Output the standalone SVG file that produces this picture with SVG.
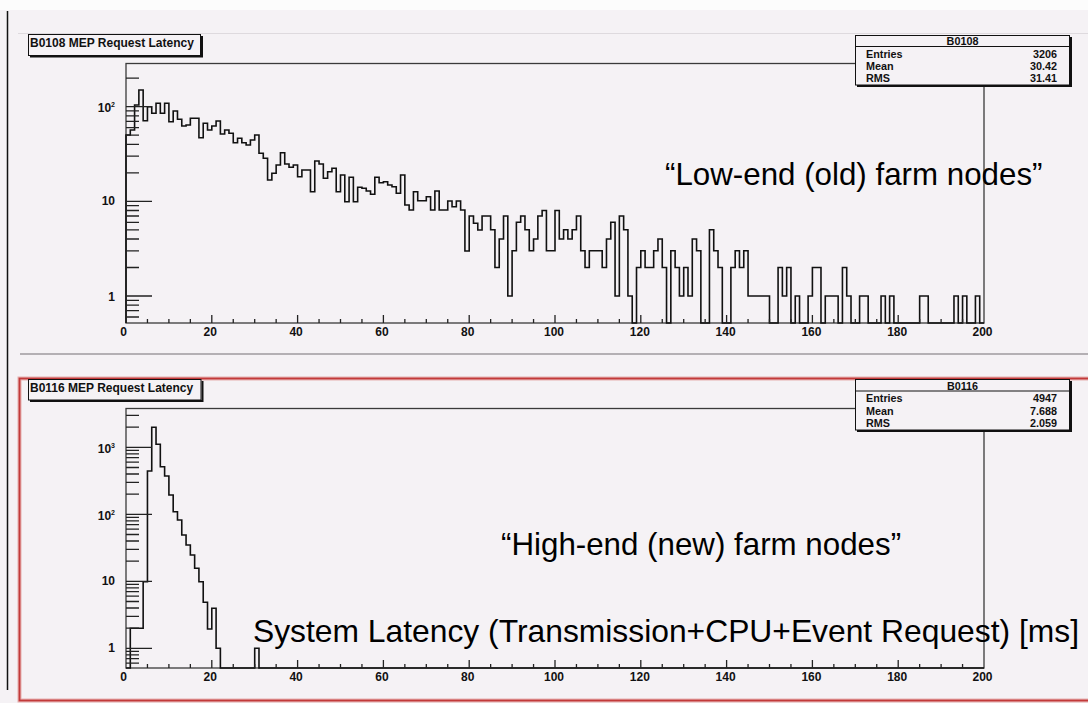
<svg xmlns="http://www.w3.org/2000/svg" width="1088" height="703" viewBox="0 0 1088 703">
<style>
.bg{fill:#f5f2f5}
.frame{fill:none;stroke:#3a3a3a;stroke-width:1.3}
.hist{fill:none;stroke:#111;stroke-width:1.6;vector-effect:non-scaling-stroke;stroke-linejoin:miter}
.tick{fill:none;stroke:#222;stroke-width:1.3}
.xt{fill:none;stroke:#222;stroke-width:1.3;vector-effect:non-scaling-stroke}
.lab{font-family:"Liberation Sans",Arial,sans-serif;font-weight:bold;font-size:12px;fill:#111}
.xl{text-anchor:middle}
.yl{text-anchor:end}
.sup{font-size:7px}
.title{font-family:"Liberation Sans",Arial,sans-serif;font-weight:bold;font-size:12px;fill:#111}
.box{fill:#f5f2f5;stroke:#111;stroke-width:1}
.shadow{fill:none;stroke:#111;stroke-width:2}
.stat{font-family:"Liberation Sans",Arial,sans-serif;font-weight:bold;font-size:10.8px;fill:#111}
.val{text-anchor:end}
.big{font-family:"Liberation Sans",Arial,sans-serif;font-size:31.3px;fill:#000}
</style>

<!-- page -->
<rect class="bg" x="0" y="0" width="1088" height="703"/>
<rect x="0" y="0" width="1088" height="10" fill="#fcfcfc"/>
<line x1="7.5" y1="11" x2="7.5" y2="690" stroke="#111" stroke-width="1.5"/>
<line x1="18" y1="33.5" x2="1088" y2="33.5" stroke="#dedade" stroke-width="1"/>
<line x1="20" y1="354" x2="1088" y2="354" stroke="#b4b0b4" stroke-width="2"/>

<!-- upper pad: B0108 -->
<g id="pad-b0108">
  <rect class="frame" x="126" y="63.5" width="858" height="259.5"/>
  <g id="hist-b0108" transform="translate(126 0) scale(4.29 1)">
    <path class="hist" d="M0,323 V135 H1 V130 H2 V105 H3 V90 H4 V120.7 H5 V106.7 H6 V113.3 H7 V103.3 H8 V113.3 H9 V103.3 H10 V121.7 H11 V111 H12 V119.3 H13 V126 H14 V125 H15 V118.3 H17 V137.7 H18 V123.3 H19 V130 H20 V126 H21 V121 H22 V134 H23 V130 H24 V133.3 H25 V142.7 H26 V138.3 H27 V142.7 H28 V145 H29 V140 H30 V135 H31 V153.3 H32 V158.3 H33 V180 H34 V173.3 H35 V165 H36 V152.7 H37 V164 H38 V167.3 H39 V165 H40 V176.7 H41 V170 H43 V191.7 H44 V161 H45 V164 H46 V178.3 H47 V171.7 H48 V168.3 H49 V191.7 H50 V175 H51 V201.7 H52 V177.3 H53 V201.7 H54 V187.3 H55 V188.3 H56 V191 H57 V194.3 H58 V177.3 H59 V182.7 H60 V181.7 H61 V185 H62 V186.7 H63 V193.3 H64 V175 H65 V205 H66 V210 H67 V191.7 H68 V200.7 H70 V196.7 H71 V210 H72 V191 H73 V210 H75 V201 H76 V206.7 H77 V201 H78 V210 H79 V251 H80 V216 H81 V223.3 H82 V230 H83 V216 H85 V229.8 H86 V267.5 H87 V239 H88 V216 H89 V296 H90 V250.8 H91 V222.3 H92 V216 H93 V229.8 H94 V250.8 H95 V239 H96 V216 H97 V210.5 H98 V250.8 H100 V210.5 H101 V239 H102 V229.8 H103 V239 H104 V229.8 H105 V216 H106 V250.8 H107 V267.5 H108 V250.8 H111 V267.5 H112 V239 H113 V222.3 H114 V296 H115 V216 H116 V229.8 H117 V296 H118 V323 H119 V267.5 H120 V250.8 H121 V267.5 H123 V250.8 H124 V239 H125 V267.5 H126 V323 H127 V250.8 H128 V267.5 H129 V296 H130 V267.5 H131 V296 H132 V239 H133 V250.8 H134 V323 H136 V229.8 H137 V250.8 H138 V267.5 H139 V323 H141 V267.5 H142 V250.8 H143 V267.5 H144 V250.8 H145 V296 H150 V323 H152 V267.5 H153 V296 H154 V267.5 H155 V323 H156 V296 H157 V323 H159 V296 H160 V267.5 H162 V323 H163 V296 H166 V323 H167 V267.5 H168 V296 H169 V323 H171 V296 H173 V323 H176 V296 H177 V323 H178 V296 H179 V323 H185 V296 H187 V323 H193 V296 H194 V323 H195 V296 H196 V323 H198 V296 H199 V323 H200"/>
  </g>
  <!-- log y axis ticks -->
  <path class="tick" d="M126,296H152M126,201.3H152M126,106.6H152M126,317H139M126,310.7H139M126,305.2H139M126,300.3H139M126,267.5H139M126,250.8H139M126,239H139M126,229.8H139M126,222.3H139M126,216H139M126,210.5H139M126,205.6H139M126,172.8H139M126,156.1H139M126,144.3H139M126,135.1H139M126,127.6H139M126,121.3H139M126,115.8H139M126,110.9H139M126,78.1H139"/>
  <g transform="translate(126 0) scale(4.29 1)">
    <path class="xt" d="M5,323v-4M10,323v-4M15,323v-4M20,323v-8M25,323v-4M30,323v-4M35,323v-4M40,323v-8M45,323v-4M50,323v-4M55,323v-4M60,323v-8M65,323v-4M70,323v-4M75,323v-4M80,323v-8M85,323v-4M90,323v-4M95,323v-4M100,323v-8M105,323v-4M110,323v-4M115,323v-4M120,323v-8M125,323v-4M130,323v-4M135,323v-4M140,323v-8M145,323v-4M150,323v-4M155,323v-4M160,323v-8M165,323v-4M170,323v-4M175,323v-4M180,323v-8M185,323v-4M190,323v-4M195,323v-4"/>
  </g>
  <g class="lab yl">
    <text x="115" y="111.6">10<tspan class="sup" dy="-5">2</tspan></text>
    <text x="115" y="205">10</text>
    <text x="115" y="300.5">1</text>
  </g>
  <g class="lab xl">
    <text x="123.5" y="336">0</text>
    <text x="210.3" y="336">20</text>
    <text x="296.1" y="336">40</text>
    <text x="381.9" y="336">60</text>
    <text x="467.7" y="336">80</text>
    <text x="554" y="336">100</text>
    <text x="639.8" y="336">120</text>
    <text x="725.6" y="336">140</text>
    <text x="811.4" y="336">160</text>
    <text x="897.2" y="336">180</text>
    <text x="982.5" y="336">200</text>
  </g>
  <g id="title-b0108">
    <polyline class="shadow" points="30,56.5 202,56.5 202,36"/>
    <rect class="box" x="28.5" y="34.5" width="172" height="21"/>
    <text class="title" x="30" y="47">B0108 MEP Request Latency</text>
  </g>
  <g id="stats-b0108">
    <polyline class="shadow" points="857,86 1071,86 1071,37"/>
    <rect class="box" x="855.5" y="35.5" width="214" height="49.5"/>
    <line x1="855.5" y1="46.5" x2="1069.5" y2="46.5" stroke="#111" stroke-width="1"/>
    <text class="stat" x="962.5" y="45" text-anchor="middle">B0108</text>
    <text class="stat" x="866" y="57.5">Entries</text>
    <text class="stat" x="866" y="69.5">Mean</text>
    <text class="stat" x="866" y="81.8">RMS</text>
    <text class="stat val" x="1057" y="57.5">3206</text>
    <text class="stat val" x="1057" y="69.5">30.42</text>
    <text class="stat val" x="1057" y="81.8">31.41</text>
  </g>
  <text class="big" x="665" y="185">“Low-end (old) farm nodes”</text>
</g>

<!-- lower pad: B0116 -->
<g id="pad-b0116">
  <rect x="19.5" y="378.5" width="1080" height="322" fill="none" stroke="#e6b0b0" stroke-width="4"/>
  <rect x="19.5" y="378.5" width="1080" height="322" fill="none" stroke="#c23a3a" stroke-width="1.8"/>
  <rect class="frame" x="126" y="408.5" width="858" height="259.5"/>
  <g id="hist-b0116" transform="translate(126 0) scale(4.29 1)">
    <path class="hist" d="M0,668 H1 V628.3 H4 V581.7 H5 V471 H6 V427.3 H7 V444.3 H8 V466.7 H9 V476 H10 V495 H11 V511.7 H12 V520 H13 V535 H14 V545 H15 V555 H16 V568.3 H17 V581.7 H18 V602.3 H19 V629 H20 V608.3 H21 V648.3 H22 V668 H30 V648.3 H31 V668 H200"/>
  </g>
  <path class="tick" d="M126,648.3H152M126,581.3H152M126,514.3H152M126,447.3H152M126,663.2H139M126,658.7H139M126,654.8H139M126,651.4H139M126,628.1H139M126,616.3H139M126,608H139M126,601.5H139M126,596.2H139M126,591.7H139M126,587.8H139M126,584.4H139M126,561.1H139M126,549.3H139M126,541H139M126,534.5H139M126,529.2H139M126,524.7H139M126,520.8H139M126,517.4H139M126,494.1H139M126,482.3H139M126,474H139M126,467.5H139M126,462.2H139M126,457.7H139M126,453.8H139M126,450.4H139M126,427.1H139M126,415.3H139"/>
  <g transform="translate(126 0) scale(4.29 1)">
    <path class="xt" d="M5,668v-4M10,668v-4M15,668v-4M20,668v-8M25,668v-4M30,668v-4M35,668v-4M40,668v-8M45,668v-4M50,668v-4M55,668v-4M60,668v-8M65,668v-4M70,668v-4M75,668v-4M80,668v-8M85,668v-4M90,668v-4M95,668v-4M100,668v-8M105,668v-4M110,668v-4M115,668v-4M120,668v-8M125,668v-4M130,668v-4M135,668v-4M140,668v-8M145,668v-4M150,668v-4M155,668v-4M160,668v-8M165,668v-4M170,668v-4M175,668v-4M180,668v-8M185,668v-4M190,668v-4M195,668v-4"/>
  </g>
  <g class="lab yl">
    <text x="115" y="453">10<tspan class="sup" dy="-5">3</tspan></text>
    <text x="115" y="520">10<tspan class="sup" dy="-5">2</tspan></text>
    <text x="115" y="584.8">10</text>
    <text x="115" y="652">1</text>
  </g>
  <g class="lab xl">
    <text x="123.5" y="680.5">0</text>
    <text x="210.3" y="680.5">20</text>
    <text x="296.1" y="680.5">40</text>
    <text x="381.9" y="680.5">60</text>
    <text x="467.7" y="680.5">80</text>
    <text x="554" y="680.5">100</text>
    <text x="639.8" y="680.5">120</text>
    <text x="725.6" y="680.5">140</text>
    <text x="811.4" y="680.5">160</text>
    <text x="897.2" y="680.5">180</text>
    <text x="982.5" y="680.5">200</text>
  </g>
  <g id="title-b0116">
    <polyline class="shadow" points="30,401 202.5,401 202.5,381"/>
    <rect class="box" x="28.5" y="379.5" width="172.5" height="20.5"/>
    <text class="title" x="30" y="392">B0116 MEP Request Latency</text>
  </g>
  <g id="stats-b0116">
    <polyline class="shadow" points="857,431 1071,431 1071,381"/>
    <rect class="box" x="855.5" y="379.5" width="214" height="50.5"/>
    <line x1="855.5" y1="391" x2="1069.5" y2="391" stroke="#111" stroke-width="1"/>
    <text class="stat" x="962.5" y="389.5" text-anchor="middle">B0116</text>
    <text class="stat" x="866" y="402">Entries</text>
    <text class="stat" x="866" y="415">Mean</text>
    <text class="stat" x="866" y="427">RMS</text>
    <text class="stat val" x="1057" y="402">4947</text>
    <text class="stat val" x="1057" y="415">7.688</text>
    <text class="stat val" x="1057" y="427">2.059</text>
  </g>
  <text class="big" x="501" y="555">“High-end (new) farm nodes”</text>
  <text class="big" x="253" y="642" textLength="826" lengthAdjust="spacingAndGlyphs">System Latency (Transmission+CPU+Event Request) [ms]</text>
</g>
</svg>
